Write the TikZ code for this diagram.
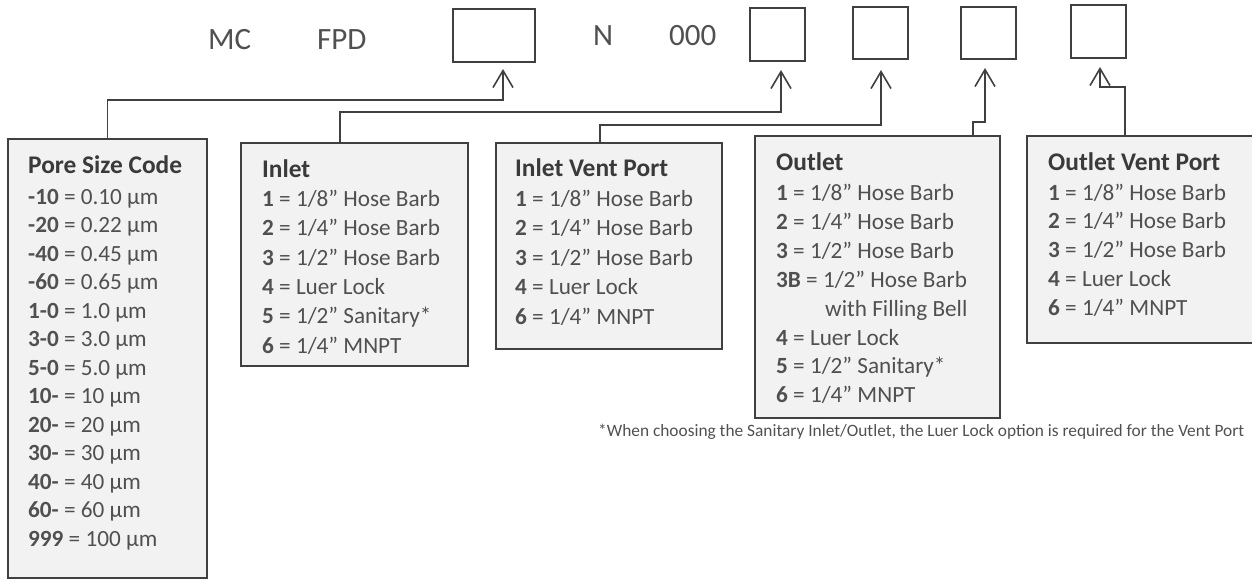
\documentclass[tikz,border=0pt]{standalone}
\usepackage{fontspec}
\setmainfont{Carlito}
\usetikzlibrary{arrows.meta}
\definecolor{edge}{HTML}{404040}
\definecolor{fillg}{HTML}{F2F2F2}
\definecolor{txt}{HTML}{505050}
\definecolor{txtb}{HTML}{3A3A3A}
\begin{document}
\begin{tikzpicture}[x=1pt,y=-1pt,
  panel/.style={draw=edge,fill=fillg,line width=1.6pt,inner sep=0pt,anchor=north west},
  slot/.style={draw=edge,line width=1.6pt,inner sep=0pt,anchor=north west},
  item/.style={anchor=base west,inner sep=0pt,text=txt,font=\fontsize{23.2}{27}\selectfont},
  ttl/.style={anchor=base west,inner sep=0pt,text=txtb,font=\fontsize{25.4}{29}\selectfont\bfseries},
  code/.style={anchor=base west,inner sep=0pt,text=txt,font=\fontsize{31}{37}\selectfont},
  note/.style={anchor=base west,inner sep=0pt,text=txt,font=\fontsize{17.5}{21}\selectfont},
  conn/.style={draw=edge,line width=1.6pt,-{Straight Barb[length=17pt,width=20pt]}}]
\useasboundingbox (0,0) rectangle (1252,579);
% top code line
\node[code] (mc) at (208,49) {MC};
\node[code] (fpd) at (317,49) {FPD};
\node[code] (n) at (593,45.5) {N};
\node[code] (zeros) at (669,45.5) {000};
\node[slot,minimum width=82pt,minimum height=53pt] (b1) at (452,8) {};
\node[slot,minimum width=55pt,minimum height=53pt] (b2) at (749,7) {};
\node[slot,minimum width=55pt,minimum height=52pt] (b3) at (852,6) {};
\node[slot,minimum width=55pt,minimum height=52pt] (b4) at (960,6) {};
\node[slot,minimum width=55pt,minimum height=53pt] (b5) at (1070,4) {};
% panels
\node[panel,minimum width=199pt,minimum height=439pt] (pore) at (7,138) {};
\node[panel,minimum width=227pt,minimum height=223pt] (inlet) at (240,142) {};
\node[panel,minimum width=226pt,minimum height=206pt] (ivent) at (495,142) {};
\node[panel,minimum width=245pt,minimum height=282pt] (outlet) at (754,135) {};
\node[panel,minimum width=240pt,minimum height=207pt] (ovent) at (1026,135) {};
% pore size
\node[ttl] (pore-t) at (28,173) {Pore Size Code};
\foreach \t [count=\i] in {{\textbf{-10} = 0.10 µm},{\textbf{-20} = 0.22 µm},{\textbf{-40} = 0.45 µm},{\textbf{-60} = 0.65 µm},{\textbf{1-0} = 1.0 µm},{\textbf{3-0} = 3.0 µm},{\textbf{5-0} = 5.0 µm},{\textbf{10-} = 10 µm},{\textbf{20-} = 20 µm},{\textbf{30-} = 30 µm},{\textbf{40-} = 40 µm},{\textbf{60-} = 60 µm},{\textbf{999} = 100 µm}}
  \node[item] (pore-\i) at (28,{204+28.5*(\i-1)}) {\t};
% inlet
\node[ttl] (inlet-t) at (262,177) {Inlet};
\foreach \t [count=\i] in {{\textbf{1} = 1/8” Hose Barb},{\textbf{2} = 1/4” Hose Barb},{\textbf{3} = 1/2” Hose Barb},{\textbf{4} = Luer Lock},{\textbf{5} = 1/2” Sanitary*},{\textbf{6} = 1/4” MNPT}}
  \node[item] (inlet-\i) at (262,{206.5+29.3*(\i-1)}) {\t};
% inlet vent
\node[ttl] (ivent-t) at (515,176.5) {Inlet Vent Port};
\foreach \t [count=\i] in {{\textbf{1} = 1/8” Hose Barb},{\textbf{2} = 1/4” Hose Barb},{\textbf{3} = 1/2” Hose Barb},{\textbf{4} = Luer Lock},{\textbf{6} = 1/4” MNPT}}
  \node[item] (ivent-\i) at (515,{206+29.5*(\i-1)}) {\t};
% outlet
\node[ttl] (outlet-t) at (776,170) {Outlet};
\foreach \t [count=\i] in {{\textbf{1} = 1/8” Hose Barb},{\textbf{2} = 1/4” Hose Barb},{\textbf{3} = 1/2” Hose Barb},{\textbf{3B} = 1/2” Hose Barb},{\hspace*{49pt}with Filling Bell},{\textbf{4} = Luer Lock},{\textbf{5} = 1/2” Sanitary*},{\textbf{6} = 1/4” MNPT}}
  \node[item] (outlet-\i) at (776,{200.5+28.9*(\i-1)}) {\t};
% outlet vent
\node[ttl] (ovent-t) at (1048,170) {Outlet Vent Port};
\foreach \t [count=\i] in {{\textbf{1} = 1/8” Hose Barb},{\textbf{2} = 1/4” Hose Barb},{\textbf{3} = 1/2” Hose Barb},{\textbf{4} = Luer Lock},{\textbf{6} = 1/4” MNPT}}
  \node[item] (ovent-\i) at (1048,{200+28.75*(\i-1)}) {\t};
% footnote
\node[note] (fn) at (598,436) {\resizebox{646pt}{!}{*When choosing the Sanitary Inlet/Outlet, the Luer Lock option is required for the Vent Port}};
% connector ends
\coordinate (t1) at (503,69);
\coordinate (s2) at (340,142);
\coordinate (t2) at (781,70);
\coordinate (s3) at (600,142);
\coordinate (t3) at (881,70);
\coordinate (s4) at (973,135);
\coordinate (t4) at (985,68);
\coordinate (s5) at (1125,135);
\coordinate (t5) at (1100,67);
\draw[conn] (pore.north) -- ++(0,-38) -| (t1);
\draw[conn] (s2) -- ++(0,-30) -| (t2);
\draw[conn] (s3) -- ++(0,-17) -| (t3);
\draw[conn] (s4) -- ++(0,-13) -| (t4);
\draw[conn] (s5) -- ++(0,-48) -| (t5);
\end{tikzpicture}
\end{document}
